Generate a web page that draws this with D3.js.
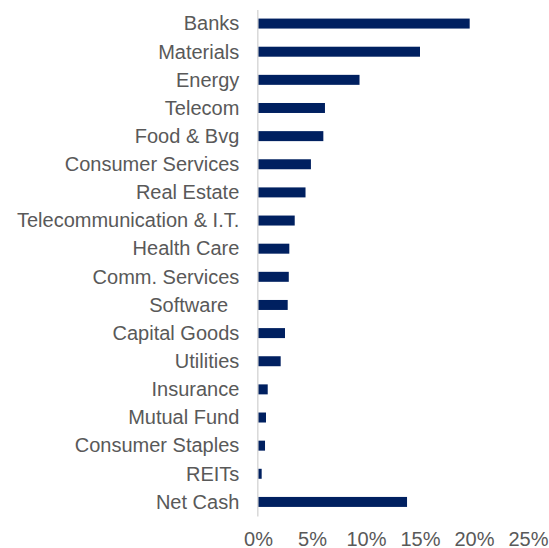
<!DOCTYPE html>
<html>
<head>
<meta charset="utf-8">
<script src="https://cdn.jsdelivr.net/npm/d3@7"></script>
<style>
  html, body { margin: 0; padding: 0; background: #fff; }
  svg { display: block; font-family: "Liberation Sans", Arial, sans-serif; }
</style>
</head>
<body>
<div class="sector-container"></div>
<script>
// --- Data ---
const sectors = [
    "Banks", "Materials", "Energy", "Telecom", "Food & Bvg", "Consumer Services",
    "Real Estate", "Telecommunication & I.T.", "Health Care", "Comm. Services",
    "Software  ", "Capital Goods", "Utilities", "Insurance", "Mutual Fund",
    "Consumer Staples", "REITs", "Net Cash"
];
const weights = [
    0.196, 0.150, 0.094, 0.062, 0.0605, 0.049,
    0.044, 0.034, 0.029, 0.0285,
    0.0275, 0.025, 0.021, 0.009, 0.0074,
    0.0065, 0.0034, 0.138
];
const xTicks = [0, 0.05, 0.10, 0.15, 0.20, 0.25];

const createSectorChart = () => {
    const viewW = 549;
    const viewH = 548;
    const barColor = "#002060";
    const textColor = "#595959";
    const fontSize = "20px";

    const svg = d3.select(".sector-container")
        .append("svg")
        .attr("width", viewW)
        .attr("height", viewH);

    // Scales
    const xScale = d3.scaleLinear()
        .domain([0, 0.25])
        .range([258, 528]);

    const yScale = d3.scaleBand()
        .domain(sectors)
        .range([9.5, 516])
        .paddingInner(0.645)
        .paddingOuter(0.3225);

    // Bars
    svg.selectAll("rect.bar")
        .data(sectors)
        .enter()
        .append("rect")
        .attr("class", "bar")
        .attr("x", xScale(0))
        .attr("y", d => yScale(d))
        .attr("width", (d, i) => xScale(weights[i]) - xScale(0))
        .attr("height", yScale.bandwidth())
        .attr("fill", barColor);

    // Category axis
    const yAxis = svg.append("g")
        .attr("transform", `translate(${xScale(0) - 0.7},0)`)
        .call(d3.axisLeft(yScale).tickSize(0).tickPadding(18).tickSizeOuter(0));

    yAxis.select(".domain")
        .attr("stroke", "#d9d9d9")
        .attr("stroke-width", 1.5);

    yAxis.selectAll("text")
        .style("font-size", fontSize)
        .style("fill", textColor)
        .style("white-space", "pre")
        .attr("dy", "0.34em");

    // Value axis (labels only)
    const xAxis = svg.append("g")
        .attr("transform", "translate(0,516)")
        .call(d3.axisBottom(xScale)
            .tickValues(xTicks)
            .tickSize(0)
            .tickPadding(16)
            .tickFormat(d3.format(".0%")));

    xAxis.select(".domain").remove();

    xAxis.selectAll("text")
        .style("font-size", fontSize)
        .style("fill", textColor);
};

createSectorChart();
</script>
</body>
</html>
